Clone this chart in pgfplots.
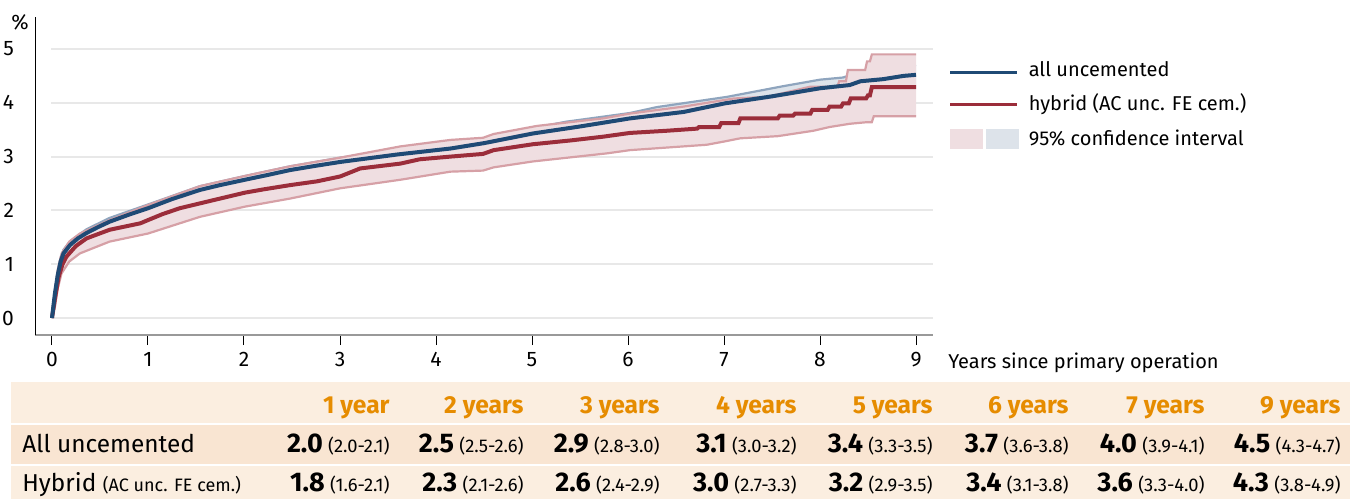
\documentclass[border=0pt]{standalone}
\usepackage{fontspec}
\setmainfont{Fira Sans}
\usepackage{pgfplots}
\pgfplotsset{compat=1.18}
\usepackage{pgfplotstable}
\usepgfplotslibrary{fillbetween}

\definecolor{blueline}{RGB}{31,74,117}
\definecolor{redline}{RGB}{155,45,58}
\definecolor{pinkfill}{RGB}{239,222,225}
\definecolor{pinkedge}{RGB}{214,160,166}
\definecolor{bluefill}{RGB}{221,227,234}
\definecolor{blueedge}{RGB}{143,165,190}
\definecolor{gridc}{RGB}{232,232,232}
\definecolor{hdrbg}{RGB}{251,238,224}
\definecolor{rowbg}{RGB}{249,229,210}
\definecolor{orangetxt}{RGB}{230,140,0}

% all uncemented: estimate
\pgfplotstableread{
t v
0 0
0.03 0.45
0.06 0.8
0.09 1.05
0.12 1.2
0.19 1.36
0.27 1.48
0.36 1.58
0.48 1.69
0.6 1.79
0.8 1.92
1.0 2.04
1.25 2.21
1.54 2.38
1.75 2.47
2.01 2.57
2.25 2.66
2.48 2.75
2.75 2.83
3.0 2.9
3.3 2.97
3.6 3.04
3.9 3.1
4.15 3.15
4.5 3.25
5.01 3.43
5.5 3.56
6.02 3.71
6.58 3.83
7.01 3.99
7.5 4.12
8.0 4.27
8.31 4.33
8.42 4.4
8.66 4.44
8.87 4.5
9.0 4.52
}\blueest

\pgfplotstableread{
t v
0 0
0.03 0.5
0.06 0.86
0.09 1.12
0.12 1.27
0.19 1.43
0.36 1.65
0.6 1.86
1.0 2.11
1.54 2.45
2.01 2.64
2.48 2.82
3.0 2.98
3.6 3.13
4.15 3.25
4.6 3.37
5.01 3.53
5.36 3.65
6.02 3.81
6.3 3.92
7.03 4.11
7.62 4.31
8.0 4.43
8.24 4.47
8.42 4.58
8.87 4.68
9.0 4.7
}\blueup

\pgfplotstableread{
t v
0 0
0.03 0.4
0.06 0.74
0.09 0.98
0.12 1.13
0.19 1.29
0.36 1.51
0.6 1.72
1.0 1.97
1.54 2.31
2.01 2.5
2.48 2.68
3.0 2.82
3.6 2.95
4.15 3.05
5.01 3.33
6.02 3.6
7.01 3.87
8.0 4.12
8.42 4.22
9.0 4.33
}\bluelo

% hybrid: estimate
\pgfplotstableread{
t v
0 0
0.03 0.35
0.07 0.77
0.11 1.0
0.15 1.14
0.25 1.34
0.36 1.48
0.6 1.64
0.92 1.76
1.0 1.82
1.15 1.93
1.33 2.04
1.68 2.19
2.01 2.33
2.2 2.39
2.48 2.47
2.76 2.54
3.0 2.63
3.21 2.78
3.63 2.87
3.83 2.95
4.15 3.0
4.49 3.05
4.6 3.12
5.01 3.23
5.4 3.3
5.74 3.37
6.02 3.44
6.4 3.48
6.72 3.52
6.74 3.55
6.95 3.55
6.97 3.62
7.15 3.62
7.17 3.71
7.56 3.71
7.58 3.76
7.72 3.76
7.74 3.8
7.9 3.8
7.92 3.87
8.08 3.87
8.1 3.93
8.22 3.93
8.24 3.99
8.3 3.99
8.32 4.08
8.48 4.08
8.5 4.14
8.52 4.14
8.54 4.29
9.0 4.29
}\redest

\pgfplotstableread{
t v
0 0
0.03 0.5
0.06 0.9
0.1 1.2
0.18 1.42
0.29 1.57
0.6 1.82
1.0 2.1
1.54 2.45
2.01 2.64
2.48 2.82
3.0 2.98
3.3 3.08
3.63 3.19
4.15 3.31
4.49 3.35
4.6 3.42
5.05 3.57
5.74 3.71
6.02 3.80
6.58 3.93
7.1 4.08
7.45 4.11
7.9 4.3
8.18 4.3
8.2 4.40
8.27 4.40
8.29 4.61
8.47 4.61
8.49 4.77
8.52 4.77
8.54 4.9
9.0 4.9
}\redup

\pgfplotstableread{
t v
0 0
0.03 0.2
0.06 0.55
0.1 0.83
0.18 1.05
0.29 1.2
0.6 1.42
1.0 1.57
1.54 1.88
2.01 2.07
2.48 2.22
3.0 2.41
3.63 2.57
4.15 2.72
4.49 2.74
4.6 2.8
5.01 2.91
5.78 3.06
6.02 3.12
6.82 3.22
7.0 3.28
7.17 3.34
7.56 3.38
7.93 3.48
8.1 3.55
8.31 3.61
8.49 3.64
8.54 3.64
8.56 3.75
9.0 3.75
}\redlo

\begin{document}
\begin{tikzpicture}
% table background
\fill[hdrbg] (-12pt,-82pt) rectangle (657.5pt,-23.5pt);
\fill[rowbg] (-12pt,-45pt) rectangle (657.5pt,-64.5pt);
\draw[white, line width=1pt] (-12pt,-44.5pt) -- (657.5pt,-44.5pt);
\draw[white, line width=1pt] (-12pt,-65pt) -- (657.5pt,-65pt);

\begin{axis}[
  at={(0pt,0pt)}, anchor=south west,
  scale only axis, width=449pt, height=159pt,
  xmin=-0.177, xmax=9.177, ymin=-0.316, ymax=5.595,
  axis x line*=bottom, axis y line*=left,
  x axis line style={draw=black!40, line width=0.75pt, -},
  y axis line style={draw=black, line width=0.5pt, -},
  xtick={0,...,9}, ytick={0,...,5},
  tick align=outside,
  major tick length=5pt,
  xtick style={draw=black, line width=0.5pt},
  ytick style={draw=none},
  /pgf/number format/assume math mode=true,
  ticklabel style={font=\fontsize{10.5}{12}\selectfont},
  xticklabel style={anchor=north},
  yticklabel style={anchor=east, xshift=-2pt},
  clip=false,
]
\pgfplotsinvokeforeach{0,...,5}{
  \draw[gridc, line width=1pt] (axis cs:-0.01,#1) -- (axis cs:9.177,#1);
}
% blue CI band
\addplot[draw=none, name path=bu, forget plot] table[x=t,y=v] {\blueup};
\addplot[draw=none, name path=bl, forget plot] table[x=t,y=v] {\bluelo};
\addplot[bluefill, draw=none] fill between[of=bu and bl, on layer=main];
\addplot[blueedge, line width=1.1pt] table[x=t,y=v] {\blueup};
% pink CI band
\addplot[draw=none, name path=ru, forget plot] table[x=t,y=v] {\redup};
\addplot[draw=none, name path=rl, forget plot] table[x=t,y=v] {\redlo};
\addplot[pinkfill, draw=none] fill between[of=ru and rl, on layer=main];
\addplot[pinkedge, line width=1.1pt] table[x=t,y=v] {\redup};
\addplot[pinkedge, line width=1.1pt] table[x=t,y=v] {\redlo};
% estimates
\addplot[redline, line width=2pt] table[x=t,y=v] {\redest};
\addplot[blueline, line width=2pt] table[x=t,y=v] {\blueest};
\end{axis}

% axis texts
\node[anchor=base, font=\fontsize{10.5}{12}\selectfont] at (-7.5pt,153pt) {\%};
\node[anchor=base west, inner sep=0pt, font=\fontsize{10}{12}\selectfont] at (456.5pt,-16.5pt) {Years since primary operation};

% legend
\draw[blueline, line width=1.6pt] (457.5pt,131.2pt) -- (491.2pt,131.2pt);
\node[anchor=base west, inner sep=0pt, font=\fontsize{10}{12}\selectfont] at (496.7pt,129.2pt) {all uncemented};
\draw[redline, line width=1.6pt] (457.5pt,115.3pt) -- (491.2pt,115.3pt);
\node[anchor=base west, inner sep=0pt, font=\fontsize{10}{12}\selectfont] at (496.7pt,112.4pt) {hybrid (AC unc. FE cem.)};
\fill[pinkfill] (457.5pt,93.2pt) rectangle (474pt,103pt);
\fill[bluefill] (475.5pt,93.2pt) rectangle (492pt,103pt);
\node[anchor=base west, inner sep=0pt, font=\fontsize{10}{12}\selectfont] at (496.7pt,95pt) {95\% confidence interval};

% table
\foreach \xr/\lab in {177.5/1 year, 244.5/2 years, 312.5/3 years, 381/4 years, 449/5 years, 517/6 years, 585/7 years, 653/9 years}{
  \node[anchor=base east, inner sep=0pt, text=orangetxt, font=\fontsize{12.3}{14}\selectfont\bfseries] at (\xr pt,-39pt) {\lab};
}
\node[anchor=base west, inner sep=0pt, font=\fontsize{12.2}{14}\selectfont] at (-6.5pt,-58.9pt) {All uncemented};
\node[anchor=base west, inner sep=0pt, font=\fontsize{12.2}{14}\selectfont] at (-6.5pt,-78.3pt) {Hybrid {\fontsize{9}{10}\selectfont(AC unc. FE cem.)}};
\foreach \xr/\m/\ci in {177.5/2.0/2.0-2.1, 244.5/2.5/2.5-2.6, 312.5/2.9/2.8-3.0, 381/3.1/3.0-3.2, 449/3.4/3.3-3.5, 517/3.7/3.6-3.8, 585/4.0/3.9-4.1, 653/4.5/4.3-4.7}{
  \node[anchor=base east, inner sep=0pt] at (\xr pt,-58.9pt) {{\fontsize{13.5}{15}\selectfont\bfseries \m} {\fontsize{9.2}{10}\selectfont(\ci)}};
}
\foreach \xr/\m/\ci in {177.5/1.8/1.6-2.1, 244.5/2.3/2.1-2.6, 312.5/2.6/2.4-2.9, 381/3.0/2.7-3.3, 449/3.2/2.9-3.5, 517/3.4/3.1-3.8, 585/3.6/3.3-4.0, 653/4.3/3.8-4.9}{
  \node[anchor=base east, inner sep=0pt] at (\xr pt,-78.3pt) {{\fontsize{13.5}{15}\selectfont\bfseries \m} {\fontsize{9.2}{10}\selectfont(\ci)}};
}
\pgfresetboundingbox
\path (-17.5pt,-82pt) rectangle (657.5pt,167.5pt);
\end{tikzpicture}
\end{document}
